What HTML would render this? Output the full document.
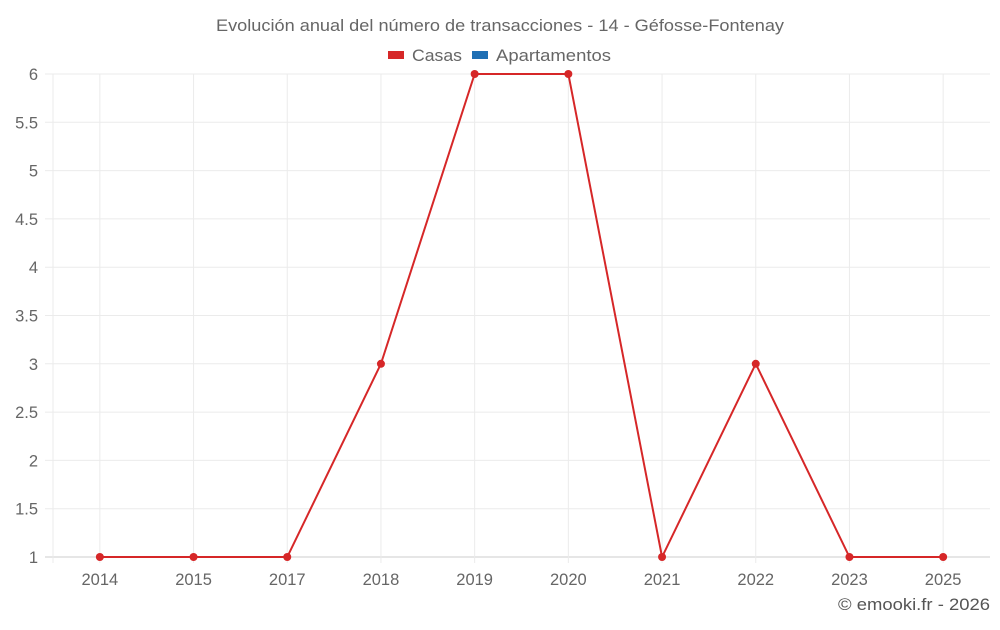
<!DOCTYPE html>
<html><head><meta charset="utf-8"><style>
body{margin:0;background:#fff;font-family:"Liberation Sans",sans-serif}
svg text{font-family:"Liberation Sans",sans-serif}
</style></head><body>
<svg width="1000" height="625" id="c">
<text x="216" y="31" font-size="17" fill="#666" textLength="568" lengthAdjust="spacingAndGlyphs">Evolución anual del número de transacciones - 14 - Géfosse-Fontenay</text>
<g><rect x="388" y="51" width="16" height="8" fill="#d62728"/><text x="412" y="61" font-size="17" fill="#666" textLength="50" lengthAdjust="spacingAndGlyphs">Casas</text></g>
<g><rect x="472" y="51" width="16" height="8" fill="#1f6fb4"/><text x="496" y="61" font-size="17" fill="#666" textLength="115" lengthAdjust="spacingAndGlyphs">Apartamentos</text></g>
<g id="grid"></g><g id="axes"></g><g id="series"></g>
<text x="838" y="610" font-size="17" fill="#555" textLength="152" lengthAdjust="spacingAndGlyphs">© emooki.fr - 2026</text>
</svg>
<script>
const categories=["2014","2015","2017","2018","2019","2020","2021","2022","2023","2025"];
const casas=[1,1,1,3,6,6,1,3,1,1];
const yTicks=[1,1.5,2,2.5,3,3.5,4,4.5,5,5.5,6];
const L=53,R=990,T=74,B=557,ymin=1,ymax=6;
const bw=(R-L)/categories.length;
const x=i=>L+bw*(i+0.5);
const y=v=>B-(v-ymin)/(ymax-ymin)*(B-T);
const NS="http://www.w3.org/2000/svg";
function mk(t,a,p){const e=document.createElementNS(NS,t);for(const k in a)e.setAttribute(k,a[k]);p.appendChild(e);return e;}
const g=document.getElementById('grid'),ax=document.getElementById('axes'),s=document.getElementById('series');
yTicks.forEach(v=>{
const l=mk('line',{x1:45,x2:R,y1:y(v),y2:y(v),stroke:v===ymin?'#ccc':'#ebebeb'},g);


const t=mk('text',{x:38,y:y(v)+6,'text-anchor':'end','font-size':16.5,fill:'#666'},ax);t.textContent=v;


});
const l0=mk('line',{x1:L,x2:L,y1:T,y2:B+6,stroke:'#ebebeb'},g);


categories.forEach((c,i)=>{
const l=mk('line',{x1:x(i),x2:x(i),y1:T,y2:B+6,stroke:'#ebebeb'},g);


const t=mk('text',{x:x(i),y:585,'text-anchor':'middle','font-size':16.5,fill:'#666'},ax);t.textContent=c;


});
const p=mk('polyline',{points:casas.map((v,i)=>x(i)+','+y(v)).join(' '),fill:'none',stroke:'#d62728','stroke-width':2},s);


casas.forEach((v,i)=>{
const c=mk('circle',{cx:x(i),cy:y(v),r:4,fill:'#d62728'},s);


});
</script>
</body></html>
